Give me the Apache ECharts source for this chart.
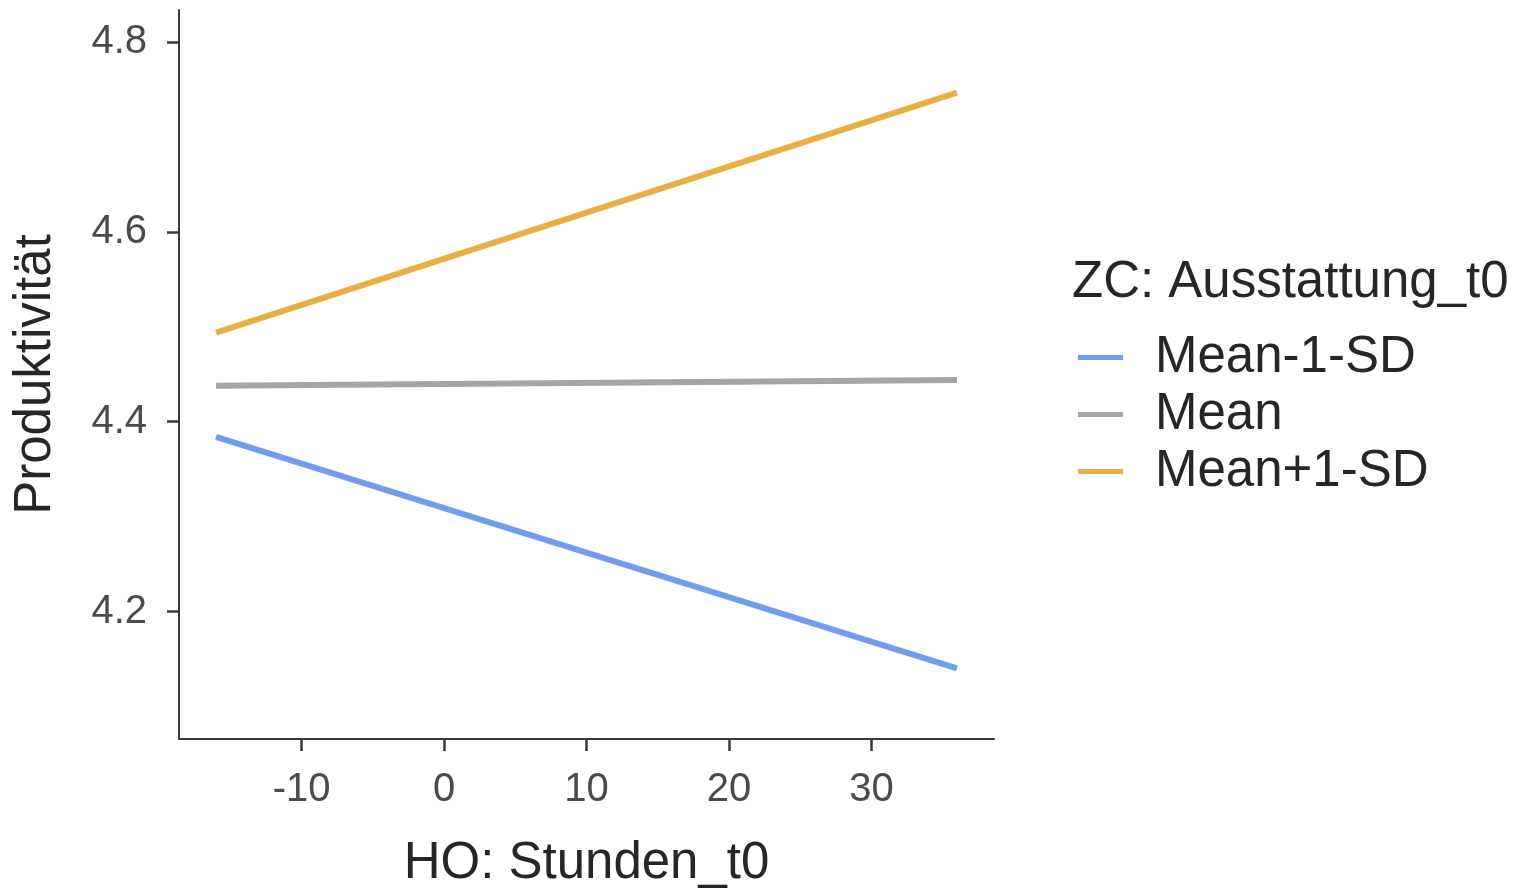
<!DOCTYPE html>
<html>
<head>
<meta charset="utf-8">
<script src="https://cdn.jsdelivr.net/npm/echarts@6/dist/echarts.min.js"></script>
<style>
html,body{margin:0;padding:0;background:#fff;}
#chart{width:1524px;height:894px;}
</style>
</head>
<body>
<div id="chart"></div>
<script>
const hours = [-16, 36];
const meanMinus1SD = [4.384, 4.140];
const meanValues = [4.438, 4.444];
const meanPlus1SD = [4.494, 4.747];
const seriesNames = ['Mean-1-SD', 'Mean', 'Mean+1-SD'];
const xTicks = [-10, 0, 10, 20, 30];
const yTicks = [4.2, 4.4, 4.6, 4.8];

const FONT = '"Liberation Sans", Arial, Helvetica, sans-serif';
const colors = ['#6F9FEB', '#A5A5A5', '#E8AF45'];
const seriesValues = [meanMinus1SD, meanValues, meanPlus1SD];

const chart = echarts.init(document.getElementById('chart'));
chart.setOption({
  animation: false,
  backgroundColor: '#ffffff',
  textStyle: { fontFamily: FONT },
  title: {
    text: 'ZC: Ausstattung_t0',
    left: 1072, top: 257, padding: 0,
    textStyle: { fontFamily: FONT, fontSize: 51, fontWeight: 'normal', color: '#262626' }
  },
  legend: {
    orient: 'vertical',
    left: 1078, top: 329, padding: 0,
    itemWidth: 45, itemHeight: 5, itemGap: 0,
    icon: 'rect',
    data: seriesNames,
    textStyle: { fontFamily: FONT, fontSize: 51, color: '#262626', lineHeight: 57, padding: [0, 0, 0, 27] }
  },
  grid: { left: 179, top: 10, right: 530, bottom: 153, containLabel: false },
  xAxis: {
    type: 'value',
    min: -18.6, max: 38.6,
    name: 'HO: Stunden_t0',
    nameLocation: 'middle',
    nameGap: 99,
    nameTextStyle: { fontFamily: FONT, fontSize: 51, color: '#262626' },
    axisLine: { show: true, onZero: false, lineStyle: { color: '#3a3a3a', width: 2 } },
    axisTick: { show: true, length: 12, lineStyle: { color: '#3a3a3a', width: 2.5 }, customValues: xTicks },
    axisLabel: { margin: 31, fontFamily: FONT, fontSize: 40, color: '#4a4a4a', customValues: xTicks },
    splitLine: { show: false }
  },
  yAxis: {
    type: 'value',
    min: 4.0656, max: 4.834,
    name: 'Produktivität',
    nameLocation: 'middle',
    nameGap: 118,
    nameTextStyle: { fontFamily: FONT, fontSize: 51, color: '#262626' },
    axisLine: { show: true, onZero: false, lineStyle: { color: '#3a3a3a', width: 2 } },
    axisTick: { show: true, length: 12, lineStyle: { color: '#3a3a3a', width: 2.5 }, customValues: yTicks },
    axisLabel: { margin: 32, fontFamily: FONT, fontSize: 40, color: '#4a4a4a', customValues: yTicks,
      formatter: v => v.toFixed(1) },
    splitLine: { show: false }
  },
  series: seriesNames.map((n, i) => ({
    name: n,
    type: 'line',
    data: hours.map((h, j) => [h, seriesValues[i][j]]),
    showSymbol: false,
    symbol: 'none',
    color: colors[i],
    lineStyle: { color: colors[i], width: 6 },
    itemStyle: { color: colors[i] }
  }))
});
</script>
</body>
</html>
